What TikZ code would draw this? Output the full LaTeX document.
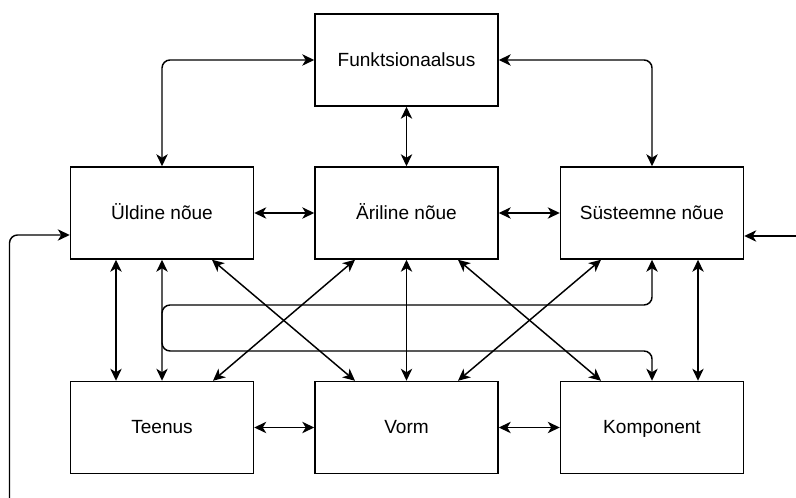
\documentclass[tikz,border=0pt]{standalone}
\usepackage{fontspec}
\setmainfont{Liberation Sans}
\usetikzlibrary{arrows.meta}

\tikzset{every picture/.style={line width=1.1pt}}
\tikzset{
  blok/.style={draw, rectangle, minimum width=137.25pt, minimum height=69pt, inner sep=0pt, text height=10.5pt, text depth=1.2pt, font=\fontsize{14.3}{16}\selectfont},
  seos/.style={{Stealth[length=9pt,width=8.5pt,inset=2.6pt]}-{Stealth[length=9pt,width=8.5pt,inset=2.6pt]}},
  ots/.style={-{Stealth[length=9pt,width=8.5pt,inset=2.6pt]}}
}

\begin{document}
\begin{tikzpicture}[x=0.75pt,y=0.75pt,yscale=-1,xscale=1]
%set diagram left start at 0, and has height of 498
\useasboundingbox (0,0) rectangle (796,498);

%Shape: Rectangle
\node [blok] (fun) at (406.5,60) {Funktsionaalsus};
%Shape: Rectangle
\node [blok] (uld) at (162,213) {Üldine nõue};
%Shape: Rectangle
\node [blok] (ari) at (406.5,213) {Äriline nõue};
%Shape: Rectangle
\node [blok] (sys) at (652,213) {Süsteemne nõue};
%Shape: Rectangle
\node [blok] (teen) at (162,427.5) {Teenus};
%Shape: Rectangle
\node [blok] (vorm) at (406.5,427.5) {Vorm};
%Shape: Rectangle
\node [blok] (komp) at (652,427.5) {Komponent};

%Connector
\draw [seos, rounded corners=6pt] (fun.west) -| (uld.north);
%Connector
\draw [seos, rounded corners=6pt] (fun.east) -| (sys.north);
%Straight Lines
\draw [seos] (fun.south) -- (ari.north);
%Straight Lines
\draw [seos] (uld.east) -- (ari.west);
%Straight Lines
\draw [seos] (ari.east) -- (sys.west);
%Straight Lines
\draw [seos] (teen.east) -- (vorm.west);
%Straight Lines
\draw [seos] (vorm.east) -- (komp.west);

%Straight Lines
\draw [seos] (uld.south -| 116,0) -- (teen.north -| 116,0);
%Straight Lines
\draw [seos] (ari.south) -- (vorm.north);
%Straight Lines
\draw [seos] (sys.south -| 698,0) -- (komp.north -| 698,0);
%Straight Lines
\draw [seos] (uld.south -| 212,0) -- (vorm.north -| 355,0);
%Straight Lines
\draw [seos] (ari.south -| 355,0) -- (teen.north -| 213,0);
%Straight Lines
\draw [seos] (ari.south -| 458,0) -- (komp.north -| 601,0);
%Straight Lines
\draw [seos] (sys.south -| 601,0) -- (vorm.north -| 458,0);

%Connector
\draw [seos, rounded corners=6pt] (teen.north) -- (teen.north |- 0,305) -| (sys.south);
%Connector
\draw [seos, rounded corners=6pt] (uld.south) -- (uld.south |- 0,351) -| (komp.north);

%Connector
\coordinate (vasak) at (9.5,505);
\draw [ots, rounded corners=6pt] (vasak) |- (uld.west |- 0,235);
%Straight Lines
\coordinate (parem) at (800,236);
\draw [ots] (parem) -- (sys.east |- parem);

\end{tikzpicture}
\end{document}
